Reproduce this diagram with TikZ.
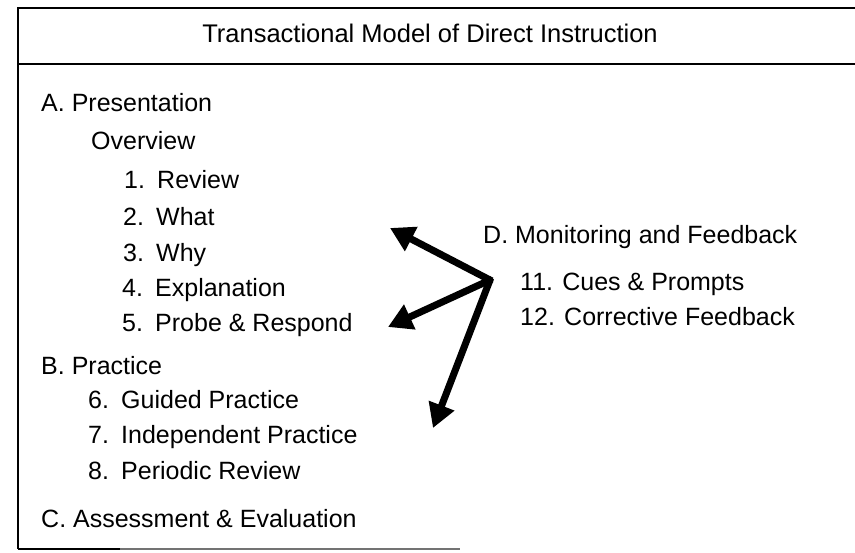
\documentclass[tikz,border=0pt]{standalone}
\usepackage{fontspec}
\setmainfont{Liberation Sans}
\usetikzlibrary{arrows.meta}
\begin{document}
\begin{tikzpicture}[x=1pt,y=-1pt,
  rule/.style={line width=1.8pt,black},
  item/.style={anchor=base west,inner sep=0pt,font=\fontsize{25}{30}\selectfont},
  heading/.style={anchor=base,inner sep=0pt,font=\fontsize{25.5}{30}\selectfont},
  thickarrow/.style={line width=7pt,-{Triangle[length=24pt,width=26pt]},shorten <=-2pt}]
\newcommand{\numd}[2]{\makebox[33pt][l]{#1}#2}
\useasboundingbox (0,0) rectangle (855,553);
% frame: left side, top rule, title rule, bottom rule
\draw[rule] (855,8) -- (18,8) -- (18,549);
\draw[rule] (18,64) -- (855,64);
\draw[rule] (18,549) -- (120,549);
\draw[line width=1.6pt,black!55] (120,549) -- (460,549);
% title
\node[heading] (title) at (430,43) {Transactional Model of Direct Instruction};
% left column
\node[item] (A) at (41,112) {A. Presentation};
\node[item] (ov) at (91,150) {Overview};
\node[item] (i1) at (124,189) {\numd{1.}{Review}};
\node[item] (i2) at (123,226) {\numd{2.}{What}};
\node[item] (i3) at (123,262) {\numd{3.}{Why}};
\node[item] (i4) at (122,297) {\numd{4.}{Explanation}};
\node[item] (i5) at (122,332) {\numd{5.}{Probe \& Respond}};
\node[item] (B) at (41,375) {B. Practice};
\node[item] (i6) at (88,409) {\numd{6.}{Guided Practice}};
\node[item] (i7) at (88,444) {\numd{7.}{Independent Practice}};
\node[item] (i8) at (88,479) {\numd{8.}{Periodic Review}};
\node[item] (C) at (41,527) {C. Assessment \& Evaluation};
% right column
\node[item] (D) at (483,244) {D. Monitoring and Feedback};
\node[item] (i11) at (520,291) {11. Cues \& Prompts};
\node[item] (i12) at (520,326) {12. Corrective Feedback};
% arrows fanning out from the monitoring hub
\coordinate (hub) at (490,280);
\coordinate (t1) at (390,228);
\coordinate (t2) at (388,327);
\coordinate (t3) at (433,428);
\draw[thickarrow] (hub) -- (t1);
\draw[thickarrow] (hub) -- (t2);
\draw[thickarrow] (hub) -- (t3);
\end{tikzpicture}
\end{document}
